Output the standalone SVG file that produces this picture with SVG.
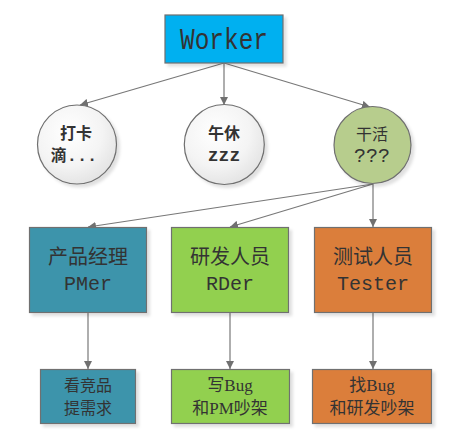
<svg xmlns="http://www.w3.org/2000/svg" width="455" height="440" viewBox="0 0 455 440">
<defs>
<radialGradient id="gw" cx="0.4" cy="0.35" r="0.7">
<stop offset="0" stop-color="#ffffff"/>
<stop offset="0.6" stop-color="#f4f4f4"/>
<stop offset="1" stop-color="#e2e2e2"/>
</radialGradient>
<filter id="sh" x="-10%" y="-10%" width="130%" height="130%">
<feDropShadow dx="3" dy="3" stdDeviation="1.5" flood-color="#000" flood-opacity="0.12"/>
</filter>
<marker id="ar" viewBox="0 0 10 10" refX="10" refY="5" markerWidth="8" markerHeight="8" markerUnits="userSpaceOnUse" orient="auto">
<path d="M0,0 L10,5 L0,10 z" fill="#707070"/>
</marker>
</defs>
<style>
.shape{stroke:#6f6f6f;stroke-width:1.2;filter:url(#sh)}
.con{stroke:#787878;stroke-width:1.2;fill:none;marker-end:url(#ar)}
.t{fill:#333333;text-anchor:middle}
.mono{font-family:"Liberation Mono","Noto Sans CJK SC",monospace}
.ser{font-family:"Liberation Serif","Noto Sans CJK SC",serif}
.cjk{font-family:"Noto Sans CJK SC",sans-serif}
</style>
<g id="connectors">
<line class="con" x1="224" y1="63" x2="80" y2="105"/>
<line class="con" x1="224" y1="63" x2="224" y2="105"/>
<line class="con" x1="224" y1="63" x2="370" y2="107"/>
<line class="con" x1="373" y1="184" x2="88" y2="227"/>
<line class="con" x1="373" y1="184" x2="230" y2="227"/>
<line class="con" x1="373" y1="184" x2="373" y2="227"/>
<line class="con" x1="88" y1="312" x2="88" y2="369"/>
<line class="con" x1="230" y1="312" x2="230" y2="369"/>
<line class="con" x1="373" y1="312" x2="373" y2="369"/>
</g>
<g id="worker">
<rect class="shape" x="165" y="15" width="118" height="48" fill="#00b0f0"/>
<text class="t mono" x="224" y="49" font-size="29" textLength="88" lengthAdjust="spacingAndGlyphs">Worker</text>
</g>
<g id="daka">
<circle class="shape" cx="77" cy="144.5" r="39.5" fill="url(#gw)"/>
<text class="t cjk" x="76" y="139" font-size="16" font-weight="bold" fill="#222">打卡</text>
<text class="t cjk" x="74" y="161" font-size="16" font-weight="bold" fill="#222">滴<tspan font-family="Liberation Mono, monospace" font-size="17">...</tspan></text>
</g>
<g id="wuxiu">
<circle class="shape" cx="224.3" cy="144.5" r="40" fill="url(#gw)"/>
<text class="t cjk" x="224" y="139" font-size="16" font-weight="bold" fill="#222">午休</text>
<text class="t mono" x="224" y="161" font-size="18" font-weight="bold" fill="#222">zzz</text>
</g>
<g id="ganhuo">
<circle class="shape" cx="372.5" cy="145" r="38.5" fill="#b7cd8d"/>
<text class="t cjk" x="372" y="140" font-size="16">干活</text>
<text class="t mono" x="372" y="162" font-size="20">???</text>
</g>
<g id="pm">
<rect class="shape" x="29.5" y="227.5" width="117" height="85" fill="#3d94ab"/>
<text class="t cjk" x="88" y="264" font-size="20">产品经理</text>
<text class="t mono" x="88" y="290" font-size="20">PMer</text>
</g>
<g id="rd">
<rect class="shape" x="171.5" y="227.5" width="117" height="85" fill="#92d050"/>
<text class="t cjk" x="230" y="264" font-size="20">研发人员</text>
<text class="t mono" x="230" y="290" font-size="20">RDer</text>
</g>
<g id="tester">
<rect class="shape" x="314.5" y="227.5" width="117" height="85" fill="#db7e3a"/>
<text class="t cjk" x="373" y="264" font-size="20">测试人员</text>
<text class="t mono" x="373" y="290" font-size="20">Tester</text>
</g>
<g id="pm-task">
<rect class="shape" x="40.5" y="369.5" width="95" height="54" fill="#3d94ab"/>
<text class="t cjk" x="88" y="391" font-size="16">看竞品</text>
<text class="t cjk" x="88" y="414" font-size="16">提需求</text>
</g>
<g id="rd-task">
<rect class="shape" x="171.5" y="369.5" width="118" height="54" fill="#92d050"/>
<text class="t ser" x="230" y="391" font-size="17">写Bug</text>
<text class="t ser" x="230" y="414" font-size="17">和PM吵架</text>
</g>
<g id="tester-task">
<rect class="shape" x="312.5" y="369.5" width="119" height="54" fill="#db7e3a"/>
<text class="t ser" x="372" y="391" font-size="17">找Bug</text>
<text class="t ser" x="372" y="414" font-size="17">和研发吵架</text>
</g>
</svg>
